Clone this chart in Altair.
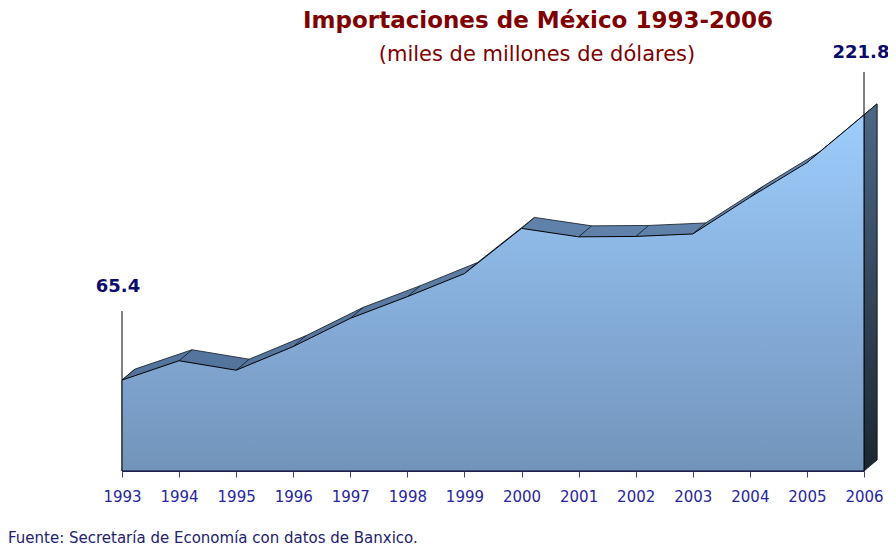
import altair as alt
import pandas as pd

# ---- data ----
years = list(range(1993, 2007))
imports = [65.4, 79.3, 72.5, 89.5, 109.8, 125.4, 142.0, 174.5, 168.4, 168.7, 170.5, 196.8, 221.8, 256.1]
label_years = [1993, 2006]
label_texts = ["65.4", "221.8"]
title_text = "Importaciones de México 1993-2006"
subtitle_text = "(miles de millones de dólares)"
source_text = "Fuente: Secretaría de Economía con datos de Banxico."

# ---- layout ----
W, H = 742, 463
YMAX = 333
PX_X = W / (years[-1] - years[0])
PX_Y = H / YMAX
DEPTH_X, DEPTH_Y = 13, 11          # 3-D depth in pixels
dxd = DEPTH_X / PX_X
dyd = DEPTH_Y / PX_Y

front = pd.DataFrame({"year": years, "v": imports})
back = pd.DataFrame({
    "year": [years[0]] + [y + dxd for y in years],
    "v": [imports[0]] + [v + dyd for v in imports],
    "v2": [0] + [dyd] * len(years),
})
side = pd.DataFrame({
    "year": [years[-1], years[-1] + dxd],
    "v": [imports[-1], imports[-1] + dyd],
    "v2": [0, dyd],
})
conn = pd.DataFrame({"year": years, "v": imports,
                     "x2": [y + dxd for y in years],
                     "y2": [v + dyd for v in imports]})
labels = pd.DataFrame({"year": label_years, "text": label_texts,
                       "v": [imports[years.index(y)] for y in label_years]})

xs = alt.Scale(domain=[years[0], years[-1]], nice=False, zero=False)
ys = alt.Scale(domain=[0, YMAX], nice=False)
xaxis = alt.Axis(
    values=years, format="d", title=None, grid=False, labelFlush=False, labelOverlap=False,
    tickSize=6, labelPadding=12, domainColor="#3a3ab0", tickColor="#3a3ab0",
    labelColor="#2626a0", labelFont="DejaVu Sans", labelFontSize=15, domainWidth=1)

X = alt.X("year:Q", scale=xs, axis=xaxis)
Y = alt.Y("v:Q", scale=ys, axis=None)

def grad(stops):
    return alt.Gradient(gradient="linear",
                        stops=[alt.GradientStop(color=c, offset=o) for o, c in stops],
                        x1=0, x2=0, y1=0, y2=1)

back_area = alt.Chart(back).mark_area(
    fill=grad([(0, "#6a8db6"), (1, "#4a6a92")]), stroke="#101820", strokeWidth=0.8
).encode(x=X, y=Y, y2="v2:Q")

connectors = alt.Chart(conn).mark_rule(color="#101820", strokeWidth=0.8).encode(
    x=X, y=Y, x2="x2:Q", y2="y2:Q")

side_area = alt.Chart(side).mark_area(
    fill=grad([(0, "#4d6786"), (1, "#1c2631")]), stroke="#101820", strokeWidth=0.8
).encode(x=X, y=Y, y2="v2:Q")

front_area = alt.Chart(front).mark_area(
    fill=grad([(0, "#9dcdfb"), (0.6, "#83aad6"), (1, "#7294bb")]), stroke="#000000", strokeWidth=1
).encode(x=X, y=Y)

def label_layer(year, dy, dx, lead):
    d = labels[labels["year"] == year]
    base = alt.Chart(d)
    rule = base.mark_rule(color="#000000", strokeWidth=1, y2Offset=-lead).encode(
        x=X, y=Y, y2="v:Q")
    txt = base.mark_text(font="DejaVu Sans", fontSize=18, fontWeight="bold", color="#0b0b6b",
                         baseline="alphabetic", align="center", dy=dy, dx=dx).encode(
        x=X, y=Y, text="text:N")
    return rule + txt

lab1 = label_layer(1993, -88, -4, 69)
lab2 = label_layer(2006, -57, -3, 43)

def fixed_text(t, x, y, size, weight, color, align="center"):
    return alt.Chart(pd.DataFrame({"t": [t]})).mark_text(
        font="DejaVu Sans", fontSize=size, fontWeight=weight, color=color,
        align=align, baseline="alphabetic").encode(
        x=alt.value(x), y=alt.value(y), text="t:N")

title = fixed_text(title_text, 416, 20, 23, "bold", "#7f0000")
subtitle = fixed_text(subtitle_text, 415, 53, 21, "normal", "#7f0000")
source = fixed_text(source_text, -114, 535, 15, "normal", "#22226e", align="left")

chart = alt.layer(back_area, connectors, side_area, front_area, lab1, lab2,
                  title, subtitle, source).properties(
    width=W, height=H,
    autosize=alt.AutoSizeParams(type="none"),
    padding={"left": 114, "top": 0, "right": 24, "bottom": 77},
    background="white",
).configure_view(stroke=None)

chart.save("out.html", embed_options={"renderer": "svg", "actions": False})
